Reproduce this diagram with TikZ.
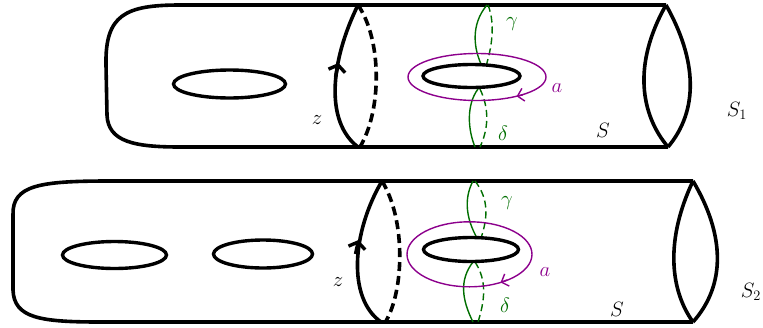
\documentclass[tikz,border=0pt]{standalone}
\usetikzlibrary{arrows.meta}
\definecolor{cgreen}{RGB}{0,110,0}
\definecolor{cpurple}{RGB}{140,0,140}
\begin{document}
\begin{tikzpicture}[x=1pt,y=-1pt,
  surf/.style={line width=3.6pt, line join=round},
  hole/.style={line width=3.4pt, fill=white},
  zsolid/.style={line width=3.6pt},
  zdash/.style={line width=3.6pt, dash pattern=on 9pt off 5pt},
  gsolid/.style={cgreen, line width=1.4pt},
  gdash/.style={cgreen, line width=1.4pt, dash pattern=on 7pt off 4pt},
  acurve/.style={cpurple, line width=1.4pt},
  abarb/.style={cpurple, line width=1.4pt, -{Straight Barb[length=6pt,width=13pt]}},
  zbarb/.style={line width=3.4pt, -{Straight Barb[length=6pt,width=17pt]}},
  lbl/.style={font=\fontsize{22}{26}\selectfont, inner sep=0pt},
  glbl/.style={lbl, text=cgreen},
  albl/.style={lbl, text=cpurple}]
\useasboundingbox (0,0) rectangle (763,327);

% ===== Surface S1 =====
\draw[surf] (666,5) -- (180,5) .. controls (125,5) and (105,15) .. (106,65)
  -- (107,115) .. controls (108,142) and (135,147) .. (180,147) -- (668,147);
% right boundary lens
\draw[surf] (666,5) .. controls (632,65) and (641,115) .. (668,147);
\draw[surf] (666,5) .. controls (697,60) and (699,110) .. (668,147);
% z curve
\draw[zdash] (358,5) .. controls (382,40) and (382,110) .. (360,147);
\draw[zsolid] (358,147) .. controls (325,122) and (330,62) .. (358,5);
\draw[zbarb] (335.5,77) -- (338.5,63);
% green curves
\draw[gsolid] (487,5) .. controls (470,25) and (474,50) .. (482,66);
\draw[gdash] (488,5) .. controls (496,25) and (491,50) .. (486,66);
\draw[gsolid] (478,89) .. controls (466,105) and (468,130) .. (475,147);
\draw[gdash] (480,89) .. controls (490,110) and (488,130) .. (480,147);
% a curve
\draw[acurve] (477,77) ellipse [x radius=69, y radius=23.5];
\draw[abarb] (523,94.8) -- (516.6,96.3);
% holes
\draw[hole] (229.5,84) ellipse [x radius=56, y radius=14];
\draw[hole] (471.5,76) ellipse [x radius=48.5, y radius=11.5];
% labels
\node[lbl] (z1) at (317,120) {$z$};
\node[glbl] (g1) at (512,24) {$\gamma$};
\node[glbl] (d1) at (503,133) {$\delta$};
\node[albl] (a1) at (557,88) {$a$};
\node[lbl] (s1) at (603,130) {$S$};
\node[lbl] (S1) at (737,111) {$S_1$};

% ===== Surface S2 =====
\draw[surf] (693,181) -- (110,181) .. controls (40,181) and (12,185) .. (13,215)
  -- (13,290) .. controls (14,318) and (40,322) .. (100,322) -- (693,322);
\draw[surf] (693,181) .. controls (665,240) and (670,290) .. (693,322);
\draw[surf] (693,181) .. controls (725,235) and (726,285) .. (693,322);
% z curve
\draw[zdash] (382,181) .. controls (406,220) and (404,290) .. (386,321);
\draw[zsolid] (381,322) .. controls (347,298) and (352,232) .. (382,181);
\draw[zbarb] (355.5,254) -- (358.5,240);
% green curves
\draw[gsolid] (473,181) .. controls (463,200) and (467,220) .. (477,238);
\draw[gdash] (475,181) .. controls (490,200) and (487,220) .. (481,238);
\draw[gsolid] (473,262) .. controls (459,280) and (462,300) .. (473,322);
\draw[gdash] (475,262) .. controls (487,280) and (485,300) .. (478,322);
% a curve
\draw[acurve] (469.5,254.3) ellipse [x radius=62.5, y radius=32.5];
\draw[abarb] (507,280) -- (500.5,282.5);
% holes
\draw[hole] (114.5,255) ellipse [x radius=52, y radius=13.5];
\draw[hole] (263,254) ellipse [x radius=49.5, y radius=14];
\draw[hole] (471,249.5) ellipse [x radius=47.5, y radius=12];
% labels
\node[lbl] (z2) at (338,282) {$z$};
\node[glbl] (g2) at (507,203) {$\gamma$};
\node[glbl] (d2) at (505,305) {$\delta$};
\node[albl] (a2) at (545,272) {$a$};
\node[lbl] (s2) at (617,309) {$S$};
\node[lbl] (S2) at (751,292) {$S_2$};
\end{tikzpicture}
\end{document}
